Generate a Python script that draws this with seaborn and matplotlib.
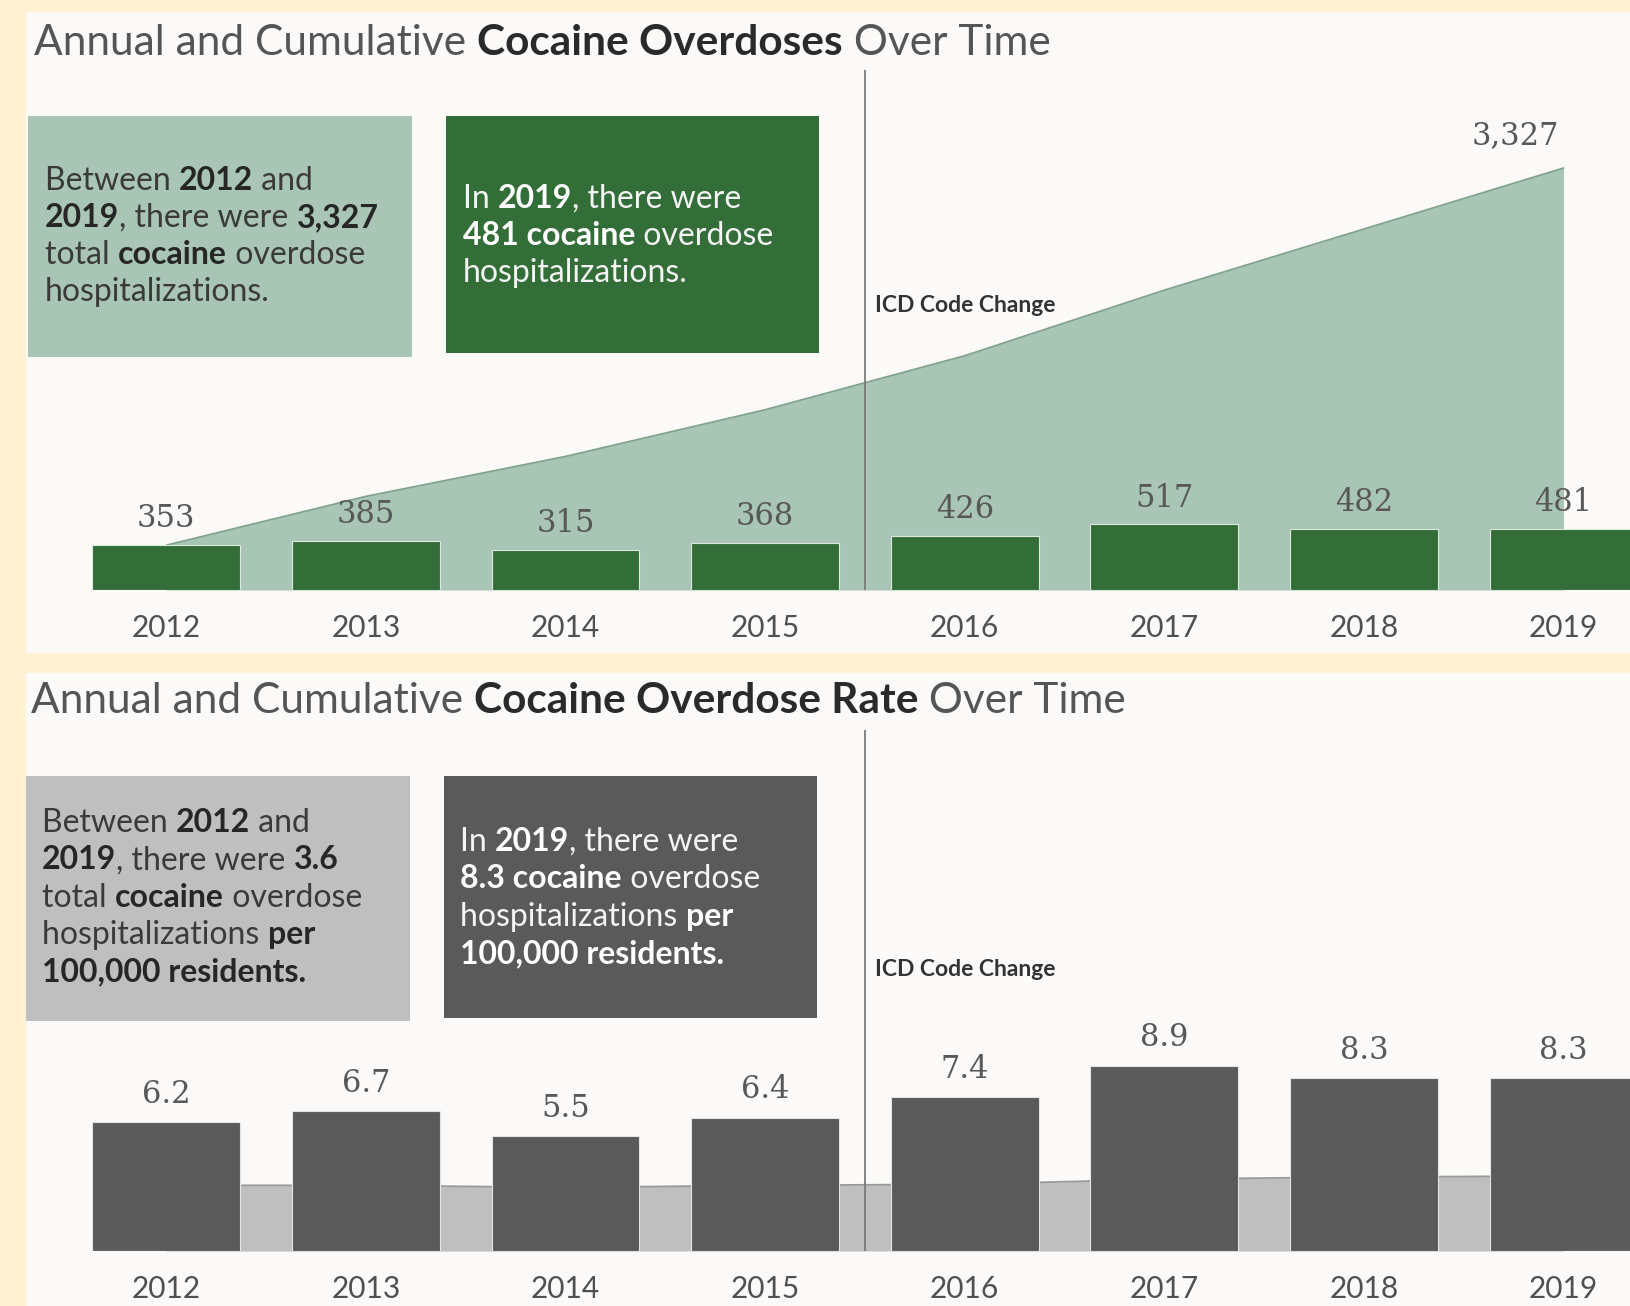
import matplotlib
matplotlib.use("Agg")
import matplotlib.pyplot as plt
from matplotlib.patches import Rectangle
import seaborn as sns
import pandas as pd

# data
years = ["2012", "2013", "2014", "2015", "2016", "2017", "2018", "2019"]
overdoses = [353, 385, 315, 368, 426, 517, 482, 481]
cumulative = [353, 738, 1053, 1421, 1847, 2364, 2846, 3327]
rates = [6.2, 6.7, 5.5, 6.4, 7.4, 8.9, 8.3, 8.3]
cum_rates = [3.15, 3.15, 3.05, 3.15, 3.2, 3.45, 3.55, 3.6]

W, H = 1630, 1306
SANS = "Lato"
SERIF = "DejaVu Serif"

CREAM = "#FFF2D3"
PANEL = "#FBFAF8"
DK_GREEN = "#336E39"
LT_GREEN = "#A8C5B6"
DK_GRAY = "#5A5A5A"
LT_GRAY = "#BFBFBF"

sns.set_theme(style="white")
plt.rcParams["font.family"] = [SANS, "DejaVu Sans"]

fig = plt.figure(figsize=(W / 100, H / 100), dpi=100, facecolor=CREAM)
renderer = fig.canvas.get_renderer()


def fx(x):
    return x / W


def fy(y):
    return 1 - y / H


def add_box(x0, y0, x1, y1, color):
    fig.patches.append(Rectangle((fx(x0), fy(y1)), fx(x1) - fx(x0), fy(y0) - fy(y1),
                                 transform=fig.transFigure, facecolor=color,
                                 edgecolor="none", zorder=-5))


def text_width(txt, **kw):
    a = fig.text(0, 0, "|" + txt + "|", **kw)
    b = fig.text(0, 0, "||", **kw)
    w = a.get_window_extent(renderer).width - b.get_window_extent(renderer).width
    a.remove()
    b.remove()
    return w


def rich_line(x, y, segments, size, color, bold_color):
    # segments: list of (text, bold); x, y in pixels from top-left, y = baseline
    for txt, bold in segments:
        kw = dict(fontsize=size, fontweight="bold" if bold else "normal",
                  family=[SANS, "DejaVu Sans"])
        fig.text(fx(x), fy(y), txt, color=bold_color if bold else color,
                 va="baseline", ha="left", **kw)
        x += text_width(txt, **kw)


# panels and callout boxes
add_box(26, 12, W, 653, PANEL)
add_box(26, 673, W, H, PANEL)
add_box(28, 116, 412, 357, LT_GREEN)
add_box(446, 116, 819, 353, DK_GREEN)
add_box(26, 776, 410, 1021, LT_GRAY)
add_box(444, 776, 817, 1018, DK_GRAY)

# titles
rich_line(34, 55, [("Annual and Cumulative ", False), ("Cocaine Overdoses", True),
                   (" Over Time", False)], 30.5, "#555555", "#2a2a2a")
rich_line(31, 713, [("Annual and Cumulative ", False), ("Cocaine Overdose Rate", True),
                    (" Over Time", False)], 30.5, "#555555", "#2a2a2a")

# callout texts
box_size = 23
lines = [
    [("Between ", False), ("2012", True), (" and", False)],
    [("2019", True), (", there were ", False), ("3,327", True)],
    [("total ", False), ("cocaine", True), (" overdose", False)],
    [("hospitalizations.", False)],
]
for i, ln in enumerate(lines):
    rich_line(45, 190 + 37 * i, ln, box_size, "#3a3a3a", "#262626")

lines = [
    [("In ", False), ("2019", True), (", there were", False)],
    [("481 cocaine", True), (" overdose", False)],
    [("hospitalizations.", False)],
]
for i, ln in enumerate(lines):
    rich_line(463, 208 + 37 * i, ln, box_size, "#F4F4F4", "#FFFFFF")

lines = [
    [("Between ", False), ("2012", True), (" and", False)],
    [("2019", True), (", there were ", False), ("3.6", True)],
    [("total ", False), ("cocaine", True), (" overdose", False)],
    [("hospitalizations ", False), ("per", True)],
    [("100,000 residents.", True)],
]
for i, ln in enumerate(lines):
    rich_line(42, 832 + 37.4 * i, ln, box_size, "#3a3a3a", "#262626")

lines = [
    [("In ", False), ("2019", True), (", there were", False)],
    [("8.3 cocaine", True), (" overdose", False)],
    [("hospitalizations ", False), ("per", True)],
    [("100,000 residents.", True)],
]
for i, ln in enumerate(lines):
    rich_line(460, 851 + 37.4 * i, ln, box_size, "#F4F4F4", "#FFFFFF")


def setup_axes(ax, text_px, base_px, top_px):
    ax.set_facecolor("none")
    sns.despine(ax=ax, left=True, bottom=True)
    ax.set_xlim(-0.703, 7.333)
    ax.set_yticks([])
    ax.set_xlabel("")
    ax.set_ylabel("")
    ax.tick_params(axis="x", length=0, pad=17, labelsize=21.5, labelcolor="#505050")
    ax.axvline(3.5, color="#7a7a7a", lw=1.3, zorder=3)
    frac = (base_px - text_px) / (base_px - top_px)
    ax.annotate("ICD Code Change", xy=(3.5, frac), xycoords=("data", "axes fraction"),
                xytext=(7, 0), textcoords="offset points", ha="left", va="center",
                fontsize=16.5, fontweight="bold", color="#333333")


# top chart: annual overdoses with cumulative area
ax1 = fig.add_axes([fx(26), fy(590), fx(W) - fx(26), fy(70) - fy(590)])
df1 = pd.DataFrame({"year": years, "count": overdoses, "cum": cumulative})
ax1.fill_between(range(len(years)), 0, df1["cum"], color=LT_GREEN, lw=0, zorder=0.5)
sns.lineplot(x=list(range(len(years))), y=df1["cum"].tolist(), ax=ax1,
             color="#7FA38D", lw=1.3, zorder=0.6)
sns.barplot(data=df1, x="year", y="count", ax=ax1, color=DK_GREEN, saturation=1,
            width=0.74, edgecolor="#DDE8DF", linewidth=0.8, zorder=2)
ax1.set_ylim(0, 4100)
for i, v in enumerate(overdoses):
    ax1.annotate(f"{v:,}", (i, v), xytext=(0, 19), textcoords="offset points",
                 ha="center", va="center", fontsize=22, family=SERIF, color="#585858")
ax1.annotate(f"{cumulative[-1]:,}", (len(years) - 1, cumulative[-1]), xytext=(-3, 23),
             textcoords="offset points", ha="right", va="center",
             fontsize=22, family=SERIF, color="#585858")
setup_axes(ax1, 305, 590, 70)

# bottom chart: annual rate with cumulative rate area
ax2 = fig.add_axes([fx(26), fy(1251), fx(W) - fx(26), fy(730) - fy(1251)])
df2 = pd.DataFrame({"year": years, "rate": rates, "cum": cum_rates})
ax2.fill_between(range(len(years)), 0, df2["cum"], color=LT_GRAY, lw=0, zorder=0.5)
sns.lineplot(x=list(range(len(years))), y=df2["cum"].tolist(), ax=ax2,
             color="#9a9a9a", lw=1.3, zorder=0.6)
sns.barplot(data=df2, x="year", y="rate", ax=ax2, color=DK_GRAY, saturation=1,
            width=0.74, edgecolor="#E4E4E4", linewidth=0.8, zorder=2)
ax2.set_ylim(0, 25.0)
for i, v in enumerate(rates):
    ax2.annotate(f"{v:.1f}", (i, v), xytext=(0, 20), textcoords="offset points",
                 ha="center", va="center", fontsize=22, family=SERIF, color="#585858")
setup_axes(ax2, 970, 1251, 730)

fig.savefig("out.png", dpi=100, facecolor=CREAM)
